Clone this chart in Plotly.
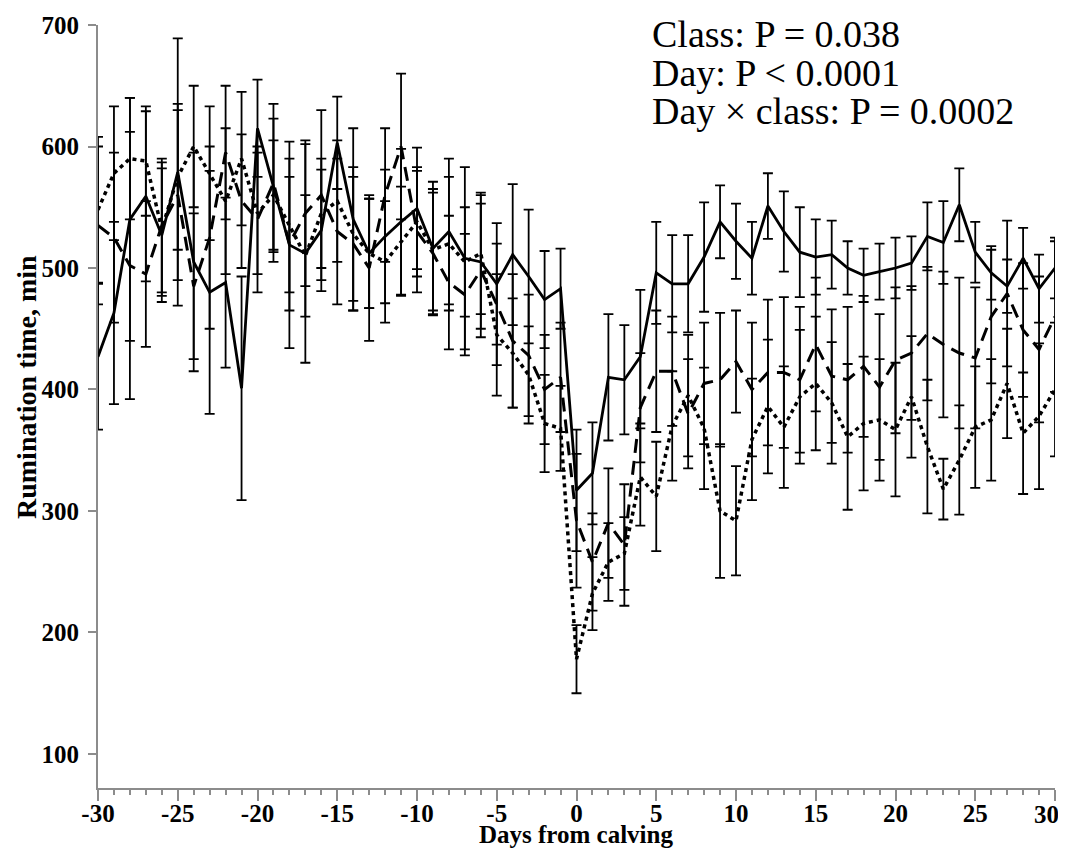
import plotly.graph_objects as go

days = list(range(-30, 31))

solid_mean = [427, 463, 540, 559, 527, 579, 505, 480, 488, 401,
              615, 568, 519, 512, 531, 603, 540, 512, 526, 538,
              549, 516, 530, 508, 505, 487, 511, 493, 474, 483,
              317, 331, 410, 408, 427, 496, 487, 487, 509, 538,
              522, 508, 551, 530, 513, 509, 511, 500, 494, 497,
              500, 504, 526, 521, 552, 513, 496, 485, 508, 483,
              500]
solid_se = [60, 75, 100, 70, 55, 110, 90, 100, 70, 92,
            40, 55, 85, 90, 50, 38, 75, 45, 55, 60,
            50, 55, 60, 75, 55, 50, 58, 55, 40, 33,
            50, 42, 52, 45, 55, 42, 40, 40, 45, 30,
            31, 30, 27, 33, 37, 31, 28, 22, 22, 23,
            25, 22, 28, 34, 30, 25, 22, 22, 25, 28,
            25]

dash_mean = [535, 525, 502, 495, 535, 560, 485, 525, 595, 555,
             540, 570, 520, 545, 560, 530, 520, 500, 560, 600,
             530, 512, 488, 478, 498, 470, 440, 428, 400, 410,
             292, 258, 290, 272, 385, 415, 415, 380, 405, 408,
             423, 400, 414, 414, 408, 437, 411, 408, 419, 402,
             424, 430, 446, 437, 430, 426, 460, 479, 449, 433,
             460]
dash_se = [65, 70, 110, 60, 55, 70, 60, 75, 55, 55,
           60, 65, 55, 60, 70, 60, 55, 60, 55, 60,
           50, 50, 55, 50, 55, 50, 55, 50, 45, 45,
           55, 40, 45, 50, 45, 50, 45, 45, 50, 55,
           42, 55, 60, 62, 60, 55, 55, 60, 58, 60,
           60, 55, 55, 60, 62, 58, 55, 60, 55, 60,
           62]

dot_mean = [548, 578, 590, 588, 532, 575, 600, 578, 555, 590,
            545, 560, 535, 510, 545, 555, 528, 512, 505, 522,
            538, 515, 520, 505, 512, 445, 430, 412, 372, 368,
            178, 232, 258, 265, 328, 312, 370, 395, 368, 300,
            292, 359, 386, 369, 394, 405, 389, 361, 372, 375,
            367, 394, 353, 318, 342, 369, 375, 405, 364, 378,
            400]
dot_se = [60, 55, 50, 45, 55, 60, 50, 55, 60, 55,
          50, 45, 55, 50, 45, 50, 55, 45, 50, 45,
          45, 50, 55, 45, 50, 50, 45, 40, 40, 35,
          28, 30, 32, 30, 40, 45, 45, 50, 50, 55,
          45, 50, 55, 50, 55, 55, 50, 60, 55, 50,
          55, 50, 55, 25, 45, 50, 50, 45, 50, 60,
          55]

y_ticks = [100, 200, 300, 400, 500, 600, 700]
x_ticks = [-30, -25, -20, -15, -10, -5, 0, 5, 10, 15, 20, 25, 30]
# the last label (30) sits at the right window edge; it is drawn as a
# nudged annotation so that it is not clipped
x_ticktext = ["-30", "-25", "-20", "-15", "-10", "-5", "0", "5", "10", "15", "20", "25", ""]
last_tick_label = "30"

stats_lines = ["Class: P = 0.038", "Day: P < 0.0001", "Day \u00d7 class: P = 0.0002"]
x_title = "Days from calving"
y_title = "Rumination time, min"

# page body has an 8px margin: the figure is laid out so that the plot area
# lands at x 98..1055, y 25..788 of the window, without page overflow
W, H = 1050, 843
ML, MR, MT, MB = 90, 3, 17, 63
PW, PH = W - ML - MR, H - MT - MB

fig = go.Figure()

def add_series(mean, se, dash, width):
    fig.add_trace(go.Scatter(
        x=days, y=mean, mode="lines",
        line=dict(color="black", width=width, dash=dash),
        error_y=dict(type="data", array=se, visible=True,
                     color="black", thickness=1.8, width=5),
        showlegend=False, hoverinfo="skip",
    ))

add_series(dot_mean, dot_se, "4px,4px", 3.5)
add_series(dash_mean, dash_se, "14px,8px", 3)
add_series(solid_mean, solid_se, "solid", 2.8)

serif = "Liberation Serif, Times New Roman, serif"
tickfont = dict(family=serif, size=25, color="black", weight="bold")

fig.update_layout(
    width=W, height=H,
    margin=dict(l=ML, r=MR, t=MT, b=MB, autoexpand=False),
    paper_bgcolor="white", plot_bgcolor="white",
    xaxis=dict(
        range=[-30, 30], tickvals=x_ticks, ticktext=x_ticktext,
        showgrid=False, zeroline=False, showline=True, linecolor="#8c8c8c", linewidth=2,
        ticks="outside", ticklen=11, tickwidth=2, tickcolor="#8c8c8c",
        minor=dict(dtick=1, ticks="outside", ticklen=5, tickwidth=1.5, tickcolor="#8c8c8c"),
        ticklabelstandoff=-9,
        tickfont=tickfont,
    ),
    yaxis=dict(
        range=[72, 700], tickvals=y_ticks,
        showgrid=False, zeroline=False, showline=True, linecolor="#8c8c8c", linewidth=2,
        ticks="outside", ticklen=8, tickwidth=2, tickcolor="#8c8c8c",
        ticklabelstandoff=4,
        tickfont=tickfont,
    ),
)

fig.add_annotation(
    text=last_tick_label, xref="x", yref="paper",
    x=x_ticks[-1], y=-(814 - 8 - MT - PH) / PH, xshift=-9,
    xanchor="center", yanchor="middle", showarrow=False,
    font=tickfont,
)

# axis titles placed in window pixels (minus the 8px body offset)
fig.add_annotation(
    text="<b>" + x_title + "</b>", xref="paper", yref="paper",
    x=(576 - 8 - ML) / PW, y=-(H - MT - PH - 1) / PH,
    xanchor="center", yanchor="bottom", showarrow=False,
    font=dict(family=serif, size=25, color="black"),
)
fig.add_annotation(
    text="<b>" + y_title + "</b>", xref="paper", yref="paper",
    x=(26 - 8 - ML) / PW, y=1 - (387 - 8 - MT) / PH,
    xanchor="center", yanchor="middle", textangle=-90, showarrow=False,
    font=dict(family=serif, size=28, color="black"),
)

ann_y_px = [34, 73, 111]
for txt, ypx in zip(stats_lines, ann_y_px):
    fig.add_annotation(
        text=txt, xref="paper", yref="paper",
        x=(650 - 8 - ML) / PW, y=1 - (ypx - 8 - MT) / PH,
        xanchor="left", yanchor="middle", showarrow=False,
        font=dict(family=serif, size=38, color="black"),
    )

fig.write_html("out.html")
